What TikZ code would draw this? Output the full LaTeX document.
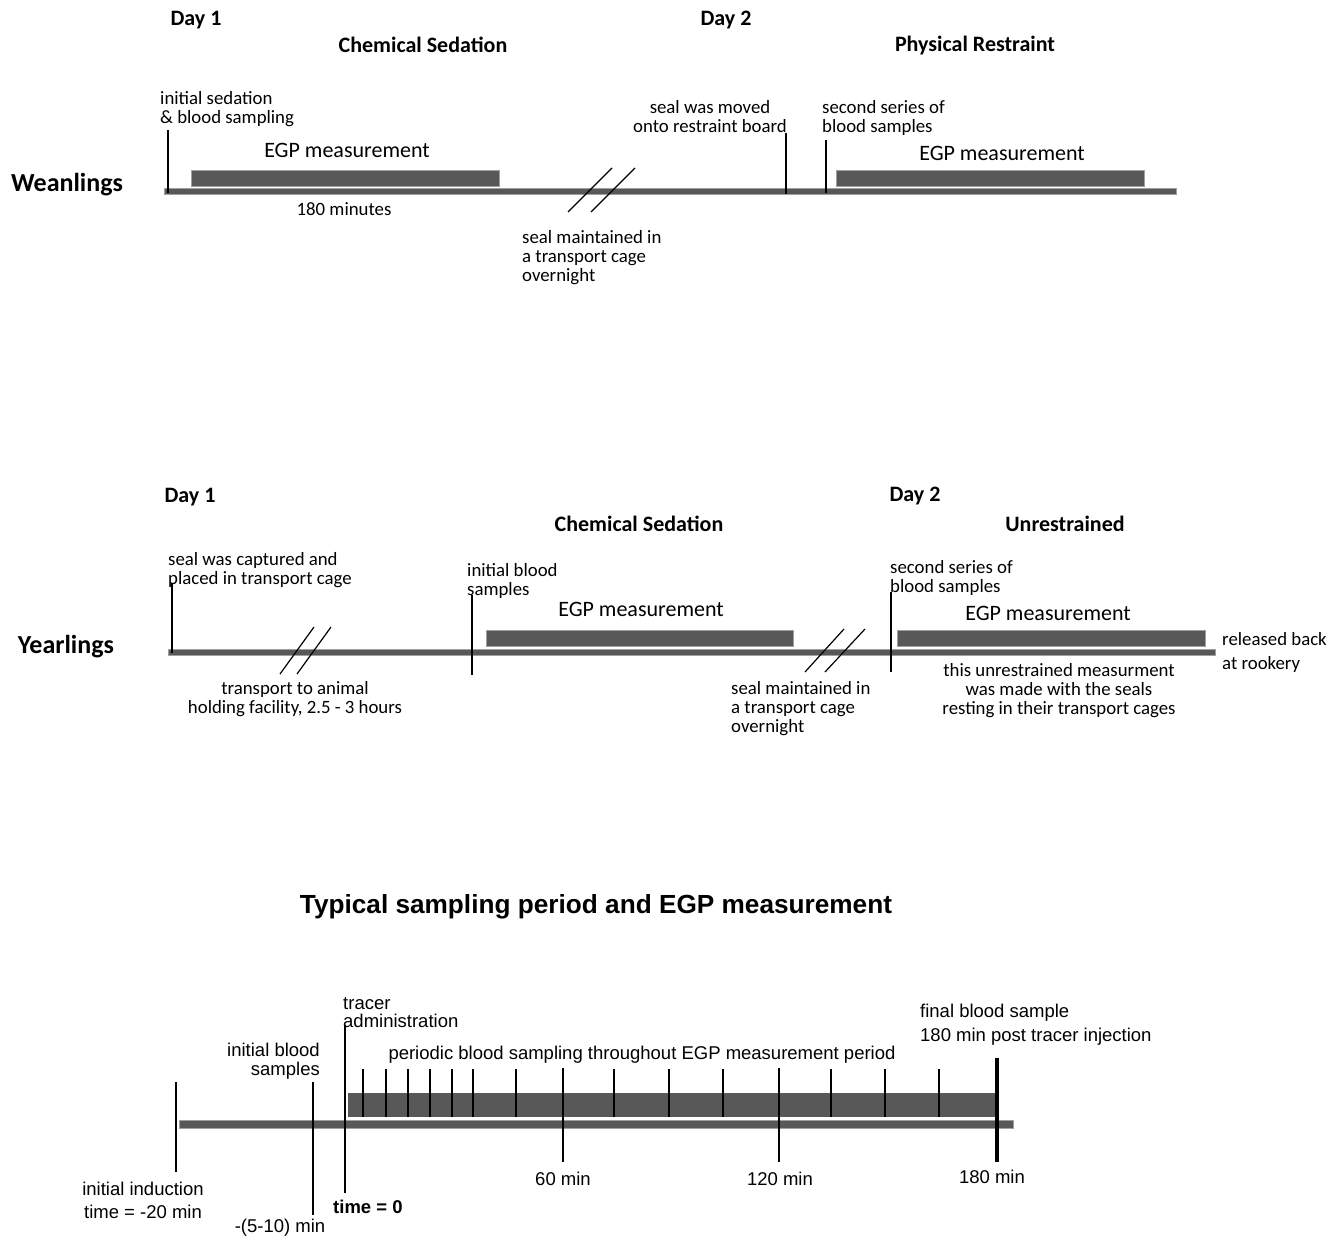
\documentclass[tikz,border=0pt]{standalone}
\usepackage{fontspec}
\setmainfont{Carlito}
\newfontfamily\arialfont{Liberation Sans}
\usetikzlibrary{positioning}

\definecolor{bargray}{RGB}{88,88,88}
\definecolor{baredge}{RGB}{160,160,160}

\begin{document}
\begin{tikzpicture}[x=1pt, y=-1pt]
	\tikzstyle{heading}=[font=\fontsize{22}{24}\selectfont\bfseries, inner sep=0pt]
	\tikzstyle{group}=[font=\fontsize{26}{28}\selectfont\bfseries, inner sep=0pt]
	\tikzstyle{note}=[font=\fontsize{18.8}{19}\selectfont, inner sep=0pt, align=left]
	\tikzstyle{egptext}=[font=\fontsize{22}{24}\selectfont, inner sep=0pt]
	\tikzstyle{timebar}=[fill=bargray, draw=baredge, line width=0.8pt]
	\tikzstyle{egpbar}=[rectangle, fill=bargray, draw=baredge, line width=0.8pt, inner sep=0pt]
	\tikzstyle{marker}=[line width=2.4pt]
	\tikzstyle{breakline}=[line width=1.2pt]
	\tikzstyle{arialnote}=[font=\fontsize{18.5}{19}\selectfont\arialfont, inner sep=0pt, align=left]

	\useasboundingbox[fill=white] (0,0) rectangle (1336,1235);

	% weanlings
	\node (w_day1) [heading] at (196,20) {Day 1};
	\node (w_chem) [heading] at (423,45) {Chemical Sedation};
	\node (w_day2) [heading] at (726,20) {Day 2};
	\node (w_phys) [heading] at (975,46) {Physical Restraint};
	\node (w_name) [group] at (67,185) {Weanlings};

	\draw[timebar] (164,188) rectangle (1176,194);
	\node (w_egp1) [egpbar, minimum width=308, minimum height=16] at (345,178) {};
	\node (w_egp2) [egpbar, minimum width=308, minimum height=16] at (990,178) {};
	\node (w_egp1_txt) [egptext] at (347,150) {EGP measurement};
	\node (w_egp2_txt) [egptext] at (1002,153) {EGP measurement};

	\draw[marker] (168,130) -- (168,193);
	\draw[marker] (786,133) -- (786,194);
	\draw[marker, line width=1.6pt] (826,140) -- (826,193);
	\draw[breakline] (568,212) -- (612,168) (591,212) -- (635,168);

	\node (w_sed) [note, anchor=north west] at (160,91) {initial sedation\\\& blood sampling};
	\node (w_min) [note] at (344,209) {180 minutes};
	\node (w_cage) [note, anchor=north west] at (522,230) {seal maintained in\\a transport cage\\overnight};
	\node (w_board) [note, align=center, anchor=north] at (710,100) {seal was moved\\onto restraint board};
	\node (w_second) [note, anchor=north west] at (822,100) {second series of\\blood samples};

	% yearlings
	\node (y_day1) [heading] at (190,497) {Day 1};
	\node (y_chem) [heading] at (639,524) {Chemical Sedation};
	\node (y_day2) [heading] at (915,496) {Day 2};
	\node (y_free) [heading] at (1065,524) {Unrestrained};
	\node (y_name) [group] at (66,647) {Yearlings};

	\draw[timebar] (168,649) rectangle (1215,655);
	\node (y_egp1) [egpbar, minimum width=307, minimum height=16] at (639.5,638) {};
	\node (y_egp2) [egpbar, minimum width=308, minimum height=16] at (1051,638) {};
	\node (y_egp1_txt) [egptext] at (641,609) {EGP measurement};
	\node (y_egp2_txt) [egptext] at (1048,613) {EGP measurement};

	\draw[marker] (172,583) -- (172,653);
	\draw[marker] (472,595) -- (472,675);
	\draw[marker] (891,592) -- (891,672);
	\draw[breakline] (280,674) -- (314,627) (297,674) -- (331,627);
	\draw[breakline] (805,672) -- (844,629) (825,672) -- (865,629);

	\node (y_catch) [note, anchor=north west] at (168,552) {seal was captured and\\placed in transport cage};
	\node (y_trip) [note, align=center, anchor=north] at (295,681) {transport to animal\\holding facility, 2.5 - 3 hours};
	\node (y_first) [note, anchor=north west] at (467,563) {initial blood\\samples};
	\node (y_cage) [note, anchor=north west] at (731,681) {seal maintained in\\a transport cage\\overnight};
	\node (y_second) [note, anchor=north west] at (890,560) {second series of\\blood samples};
	\node (y_free_txt) [note, align=center, anchor=north] at (1059,663) {this unrestrained measurment\\was made with the seals\\resting in their transport cages};
	\node (y_release) [note, font=\fontsize{18.8}{24}\selectfont, anchor=north west] at (1222,632) {released back\\at rookery};

	% typical sampling period
	\node (t_title) [font=\fontsize{26.2}{28}\selectfont\arialfont\bfseries, inner sep=0pt] at (596,907) {Typical sampling period and EGP measurement};
	\draw[timebar] (179,1120) rectangle (1013,1128);
	\node (t_egp) [egpbar, draw=none, minimum width=650, minimum height=24, anchor=north west] at (348,1093) {};

	\foreach \x in {363,386,408,430,452,473,516,614,669,723,831,885,939}
		\draw[line width=1.4pt] (\x,1069) -- (\x,1117);
	\draw[marker, line width=2pt] (176,1082) -- (176,1172);
	\draw[marker, line width=2pt] (313,1082) -- (313,1215);
	\draw[marker, line width=2pt] (345,1025) -- (345,1193);
	\draw[marker, line width=2pt] (563,1068) -- (563,1162);
	\draw[marker, line width=2pt] (779,1068) -- (779,1162);
	\draw[marker, line width=4pt] (997,1058) -- (997,1162);

	\node (t_tracer) [arialnote, font=\fontsize{18.5}{18}\selectfont\arialfont, anchor=north west] at (343,997) {tracer\\administration};
	\node (t_first) [arialnote, align=right, anchor=north east] at (320,1043) {initial blood\\samples};
	\node (t_periodic) [arialnote] at (642,1055) {periodic blood sampling throughout EGP measurement period};
	\node (t_final) [arialnote, font=\fontsize{18.5}{24}\selectfont\arialfont, anchor=north west] at (920,1004) {final blood sample\\180 min post tracer injection};
	\node (t_induct) [arialnote, font=\fontsize{18.5}{23}\selectfont\arialfont, align=center, anchor=north] at (143,1182) {initial induction\\time = -20 min};
	\node (t_pre) [arialnote] at (280,1228) {-(5-10) min};
	\node (t_zero) [arialnote, font=\fontsize{18.5}{19}\selectfont\arialfont\bfseries, anchor=west] at (333,1207) {time = 0};
	\node (t_60) [arialnote] at (563,1179) {60 min};
	\node (t_120) [arialnote] at (780,1179) {120 min};
	\node (t_180) [arialnote] at (992,1177) {180 min};
\end{tikzpicture}
\end{document}
